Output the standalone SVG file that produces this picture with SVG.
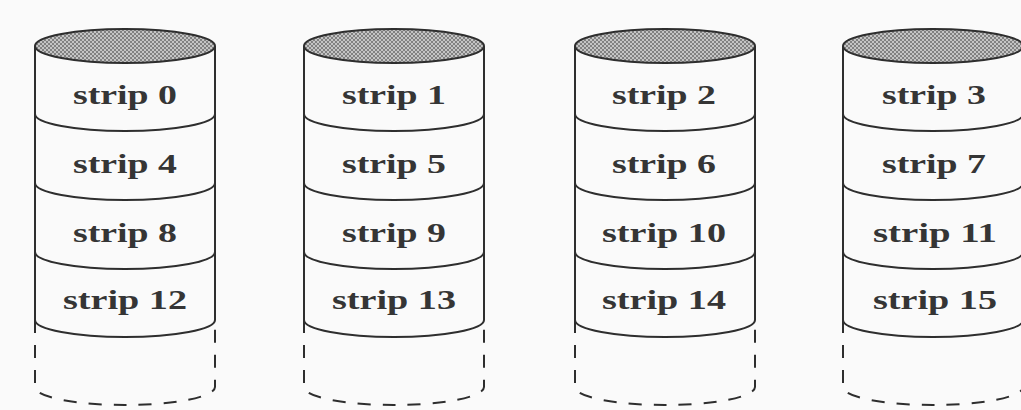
<svg xmlns="http://www.w3.org/2000/svg" xmlns:xlink="http://www.w3.org/1999/xlink" width="1021" height="410" viewBox="0 0 1021 410">
<defs>
<pattern id="hatch" width="4" height="4" patternUnits="userSpaceOnUse">
<rect width="4" height="4" fill="#c4c4c4"/>
<path d="M0 4 L4 0 M0 0 L4 4" stroke="#707070" stroke-width="0.8"/>
</pattern>
<g id="cyl">
<ellipse cx="0" cy="46" rx="90" ry="17" fill="url(#hatch)" class="ln"/>
<path class="ln" d="M-90 46 V320 M90 46 V320"/>
<path class="ln" d="M-90 114 A90 17 0 0 0 90 114 M-90 183 A90 17 0 0 0 90 183 M-90 252 A90 17 0 0 0 90 252 M-90 320 A90 17 0 0 0 90 320"/>
<path class="dash" d="M-90 320 V387 A90 18 0 0 0 90 387 V320"/>
</g>
</defs>
<style>
.ln{stroke:#2e2e2e;stroke-width:2;fill:none}
ellipse.ln{fill:url(#hatch)}
.dash{stroke:#2e2e2e;stroke-width:2;fill:none;stroke-dasharray:13 12}
.t{font-family:"Liberation Serif","Times New Roman",serif;font-weight:bold;font-size:28px;fill:#353535;text-anchor:middle}
</style>
<rect width="1021" height="410" fill="#fafafa"/>
<g id="disk0">
<use xlink:href="#cyl" href="#cyl" transform="translate(125,0)"/>
<text class="t" x="125" y="104" textLength="104" lengthAdjust="spacingAndGlyphs">strip 0</text>
<text class="t" x="125" y="173" textLength="104" lengthAdjust="spacingAndGlyphs">strip 4</text>
<text class="t" x="125" y="242" textLength="104" lengthAdjust="spacingAndGlyphs">strip 8</text>
<text class="t" x="125" y="309" textLength="124" lengthAdjust="spacingAndGlyphs">strip 12</text>
</g>
<g id="disk1">
<use xlink:href="#cyl" href="#cyl" transform="translate(394,0)"/>
<text class="t" x="394" y="104" textLength="104" lengthAdjust="spacingAndGlyphs">strip 1</text>
<text class="t" x="394" y="173" textLength="104" lengthAdjust="spacingAndGlyphs">strip 5</text>
<text class="t" x="394" y="242" textLength="104" lengthAdjust="spacingAndGlyphs">strip 9</text>
<text class="t" x="394" y="309" textLength="124" lengthAdjust="spacingAndGlyphs">strip 13</text>
</g>
<g id="disk2">
<use xlink:href="#cyl" href="#cyl" transform="translate(665,0)"/>
<text class="t" x="664" y="104" textLength="104" lengthAdjust="spacingAndGlyphs">strip 2</text>
<text class="t" x="664" y="173" textLength="104" lengthAdjust="spacingAndGlyphs">strip 6</text>
<text class="t" x="664" y="242" textLength="124" lengthAdjust="spacingAndGlyphs">strip 10</text>
<text class="t" x="664" y="309" textLength="124" lengthAdjust="spacingAndGlyphs">strip 14</text>
</g>
<g id="disk3">
<use xlink:href="#cyl" href="#cyl" transform="translate(933,0)"/>
<text class="t" x="934" y="104" textLength="104" lengthAdjust="spacingAndGlyphs">strip 3</text>
<text class="t" x="934" y="173" textLength="104" lengthAdjust="spacingAndGlyphs">strip 7</text>
<text class="t" x="935" y="242" textLength="124" lengthAdjust="spacingAndGlyphs">strip 11</text>
<text class="t" x="935" y="309" textLength="124" lengthAdjust="spacingAndGlyphs">strip 15</text>
</g>
<g id="connectors"/>
</svg>
